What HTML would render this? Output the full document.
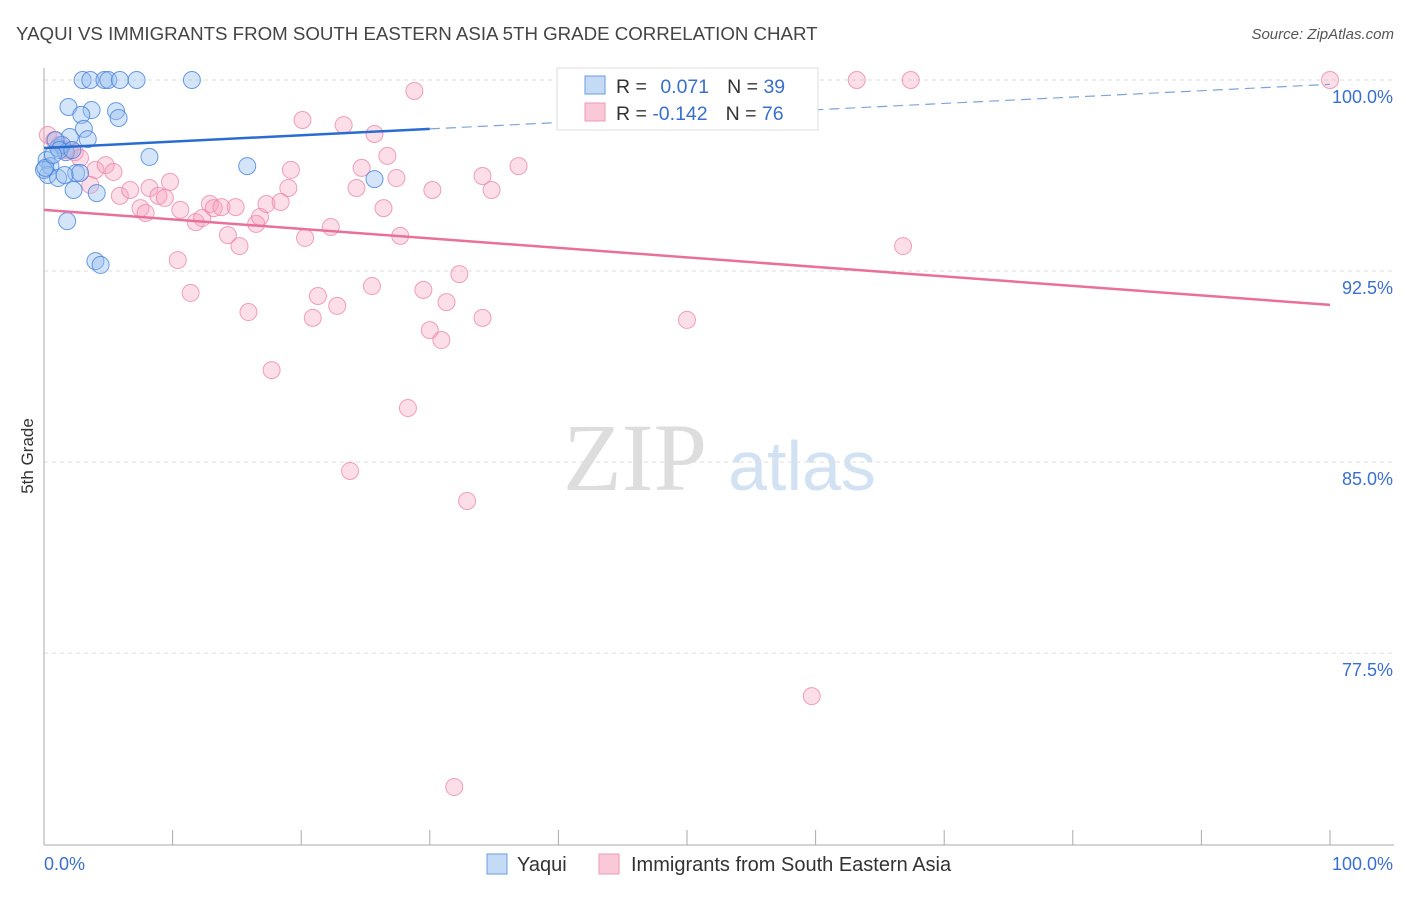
<!DOCTYPE html>
<html><head><meta charset="utf-8"><style>
body{margin:0;background:#fff;font-family:"Liberation Sans",sans-serif;}
svg text{font-family:"Liberation Sans",sans-serif;}
</style></head><body>
<svg id="chart" width="1406" height="892">
<text x="16" y="40" font-size="18.7" fill="#444">YAQUI VS IMMIGRANTS FROM SOUTH EASTERN ASIA 5TH GRADE CORRELATION CHART</text>
<text x="1394" y="39" font-size="15" fill="#555" text-anchor="end" font-style="italic">Source: ZipAtlas.com</text>
<text x="33" y="456" font-size="17" fill="#333" text-anchor="middle" transform="rotate(-90 33 456)">5th Grade</text>
<g><text x="635" y="490" font-size="96" fill="#ddd" style="font-family:'Liberation Serif',serif" text-anchor="middle">ZIP</text><text x="802" y="490" font-size="70" fill="#d3e2f3" text-anchor="middle">atlas</text></g>
<g id="grid"></g><g id="axes"></g><g id="pts"></g><g id="trends"></g>
<g>
<rect x="557" y="68" width="261" height="62" fill="#fff" stroke="#ddd"/>
<rect x="585" y="76" width="20" height="18" fill="#c5dbf5" stroke="#6a9ee0"/>
<rect x="585" y="103" width="20" height="18" fill="#fac9d8" stroke="#ee9ab5"/>
<text x="616" y="93" font-size="19.5" fill="#333">R = <tspan fill="#3a6fd0" dx="8">0.071</tspan><tspan fill="#333" dx="18">N = </tspan><tspan fill="#3a6fd0">39</tspan></text>
<text x="616" y="120" font-size="19.5" fill="#333">R = <tspan fill="#3a6fd0" dx="0">-0.142</tspan><tspan fill="#333" dx="18">N = </tspan><tspan fill="#3a6fd0">76</tspan></text>
</g>
<g>
<rect x="487" y="854" width="20" height="20" fill="#c5dbf5" stroke="#6a9ee0"/>
<text x="517" y="871" font-size="20" fill="#333">Yaqui</text>
<rect x="599" y="854" width="20" height="20" fill="#fac9d8" stroke="#ee9ab5"/>
<text x="631" y="871" font-size="20" fill="#333">Immigrants from South Eastern Asia</text>
</g>
</svg>
<script>
const yTicks=[100,92.5,85,77.5];
const yTickLabels=["100.0%","92.5%","85.0%","77.5%"];
const blueX=[3.0,3.6,4.7,5.0,5.9,7.2,11.5,1.9,3.7,2.9,5.6,5.8,3.1,2.0,3.4,1.1,1.7,0.2,0.5,0.3,1.1,2.3,4.1,1.8,4.0,4.4,8.2,15.8,25.7,2.5,2.8,1.4,0.9,0.0,1.2,2.2,0.1,0.7,1.6];
const blueY=[100,100,100,100,100,100,100,98.94,98.82,98.63,98.78,98.51,98.08,97.76,97.68,97.33,97.17,96.86,96.62,96.27,96.15,95.68,95.56,94.46,92.89,92.74,96.98,96.62,96.11,96.35,96.35,97.45,97.64,96.47,97.25,97.25,96.55,97.06,96.27];
const pinkX=[0.3,0.8,1.2,1.6,2.0,2.4,2.8,3.6,4.0,4.8,5.4,5.9,6.7,7.5,7.9,8.2,8.9,9.4,9.8,10.6,10.4,11.4,11.8,12.3,12.9,13.2,13.8,14.3,14.9,15.2,15.9,16.5,16.8,17.3,18.4,19.0,19.2,17.7,20.1,20.3,20.9,21.3,22.3,22.8,23.3,23.8,24.3,24.7,25.5,25.7,26.4,26.7,27.4,27.7,28.3,28.8,29.5,30.0,30.2,30.9,31.3,32.3,32.9,34.1,34.1,34.8,36.9,31.9,50.0,59.7,63.2,66.8,67.4,100];
const pinkY=[97.84,97.64,97.45,97.25,97.25,97.17,96.94,95.88,96.47,96.66,96.39,95.45,95.68,94.97,94.78,95.76,95.45,95.37,96.0,94.9,92.93,91.64,94.42,94.58,95.13,94.97,95.01,93.91,95.01,93.48,90.89,94.35,94.62,95.13,95.21,95.76,96.47,88.61,98.43,93.8,90.66,91.52,94.23,91.13,98.23,84.65,95.76,96.55,91.91,97.88,94.97,97.02,96.15,93.88,87.12,99.57,91.76,90.18,95.68,89.79,91.28,92.38,83.47,96.23,90.66,95.68,96.62,72.24,90.58,75.81,100,93.48,100,100];
const blueTrend=[97.33,99.83];
const pinkTrend=[94.90,91.17];
const NS="http://www.w3.org/2000/svg";
const sx=v=>44+v*12.86, sy=v=>80+(100-v)*25.47;
function mk(tag,attrs,parent){const e=document.createElementNS(NS,tag);for(const k in attrs)e.setAttribute(k,attrs[k]);document.getElementById(parent).appendChild(e);return e;}
yTicks.forEach((t,i)=>{
  const l=mk('line',{x1:44,x2:1394,y1:sy(t),y2:sy(t),stroke:'#ddd','stroke-dasharray':'4,4'},'grid');
  
  
  const tx=mk('text',{x:1393,y:sy(t)+23,'font-size':18,fill:'#3a6fd0','text-anchor':'end'},'grid');tx.textContent=yTickLabels[i];
  
  
});
const ya=mk('line',{x1:44,x2:44,y1:68,y2:845,stroke:'#aaa'},'axes');


const xa=mk('line',{x1:44,x2:1394,y1:845,y2:845,stroke:'#aaa'},'axes');


for(let i=0;i<=10;i++){const t=mk('line',{x1:sx(i*10),x2:sx(i*10),y1:830,y2:845,stroke:'#aaa'},'axes');
  
  }
const x0=mk('text',{x:44,y:870,'font-size':18,fill:'#3a6fd0'},'axes');x0.textContent='0.0%';


const x1=mk('text',{x:1393,y:870,'font-size':18,fill:'#3a6fd0','text-anchor':'end'},'axes');x1.textContent='100.0%';


pinkX.forEach((x,i)=>{const c=mk('circle',{cx:sx(x),cy:sy(pinkY[i]),r:8.5,fill:'rgba(245,160,190,0.35)',stroke:'rgba(235,130,165,0.75)','stroke-width':1},'pts');
  
  });
blueX.forEach((x,i)=>{const c=mk('circle',{cx:sx(x),cy:sy(blueY[i]),r:8.5,fill:'rgba(150,190,240,0.4)',stroke:'rgba(70,130,220,0.8)','stroke-width':1},'pts');
  
  });
const bAt=x=>blueTrend[0]+(blueTrend[1]-blueTrend[0])*x/100;
const b1=mk('line',{x1:sx(0),y1:sy(bAt(0)),x2:sx(30),y2:sy(bAt(30)),stroke:'#2a6dd0','stroke-width':2.5},'trends');


const b2=mk('line',{x1:sx(30),y1:sy(bAt(30)),x2:sx(100),y2:sy(bAt(100)),stroke:'#7fa3d8','stroke-width':1.2,'stroke-dasharray':'10,6'},'trends');


const p1=mk('line',{x1:sx(0),y1:sy(pinkTrend[0]),x2:sx(100),y2:sy(pinkTrend[1]),stroke:'#e8709a','stroke-width':2.5},'trends');


</script>
</body></html>
